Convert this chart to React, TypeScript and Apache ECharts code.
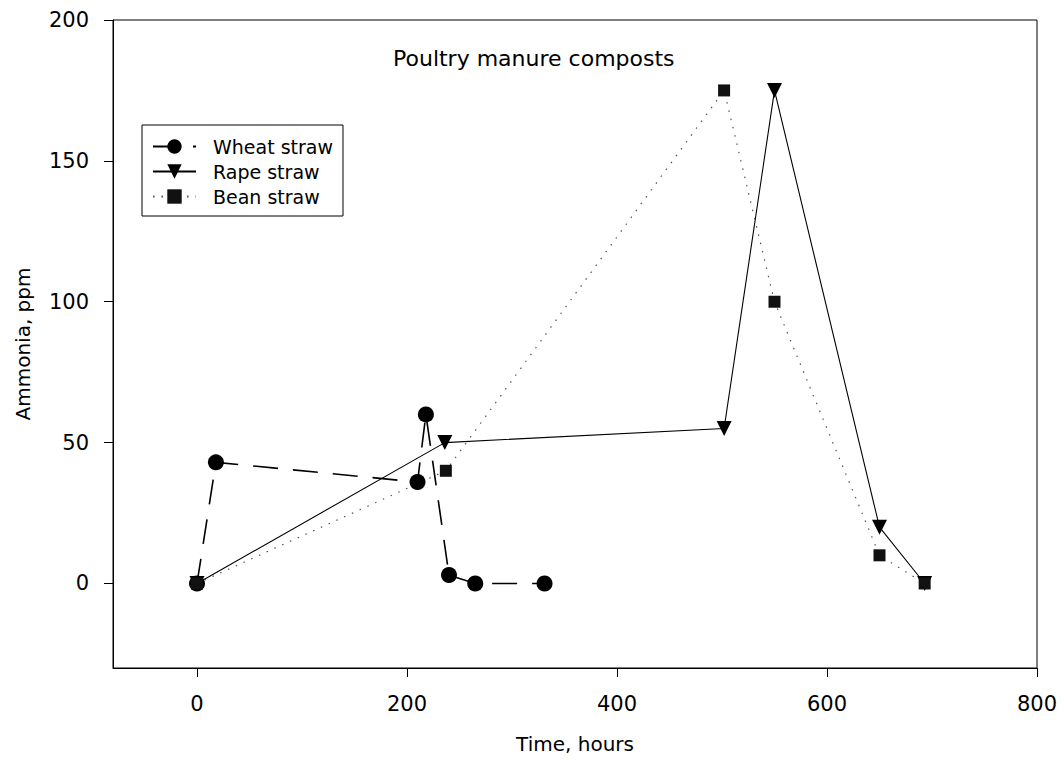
import React, { useEffect, useRef } from "react";
import * as echarts from "echarts";

// Axis ticks
const xTicks = [0, 200, 400, 600, 800];
const yTicks = [0, 50, 100, 150, 200];

// Ammonia release (ppm) over composting time (hours)
const wheatHours = [0, 18, 210, 218, 240, 265, 331];
const wheatNH3 = [0, 43, 36, 60, 3, 0, 0];
const rapeHours = [0, 236, 502, 550, 650, 693];
const rapeNH3 = [0, 50, 55, 175, 20, 0];
const beanHours = [0, 237, 502, 550, 650, 693];
const beanNH3 = [0, 40, 175, 100, 10, 0];

const seriesNames = ["Wheat straw", "Rape straw", "Bean straw"];

const FONT = "DejaVu Sans";

const pairs = (xs: number[], ys: number[]) => xs.map((x, i) => [x, ys[i]]);

export default function App() {
  const ref = useRef<HTMLDivElement>(null);

  useEffect(() => {
    if (!ref.current) return;
    const chart = echarts.init(ref.current, null, { renderer: "svg" });
    chart.setOption({
      animation: false,
      backgroundColor: "#fff",
      textStyle: { fontFamily: FONT, color: "#000" },
      title: {
        text: "Poultry manure composts",
        left: 388,
        top: 42,
        textStyle: { fontFamily: FONT, fontSize: 22, fontWeight: "normal", color: "#000" },
      },
      grid: {
        left: 113,
        right: 27,
        top: 20,
        bottom: 97,
        show: true,
        borderColor: "#000",
        borderWidth: 1,
        backgroundColor: "transparent",
      },
      legend: {
        data: seriesNames,
        orient: "vertical",
        left: 142,
        top: 125,
        padding: [12, 10, 10, 10],
        itemGap: 6,
        itemWidth: 43,
        itemHeight: 18,
        borderColor: "#000",
        borderWidth: 1,
        textStyle: { fontFamily: FONT, fontSize: 19, color: "#000", padding: [0, 0, 0, 12] },
      },
      xAxis: {
        type: "value",
        min: -80,
        max: 800,
        name: "Time, hours",
        nameLocation: "middle",
        nameGap: 66,
        nameTextStyle: { fontFamily: FONT, fontSize: 20, color: "#000" },
        axisLine: { onZero: false, lineStyle: { color: "#000", width: 1 } },
        axisTick: { show: true, length: 9, customValues: xTicks, lineStyle: { color: "#000" } },
        axisLabel: { customValues: xTicks, margin: 25, fontFamily: FONT, fontSize: 21, color: "#000" },
        splitLine: { show: false },
      },
      yAxis: {
        type: "value",
        min: -30,
        max: 200,
        name: "Ammonia, ppm",
        nameLocation: "middle",
        nameGap: 80,
        nameTextStyle: { fontFamily: FONT, fontSize: 20, color: "#000" },
        axisLine: { show: true, onZero: false, lineStyle: { color: "#000", width: 1 } },
        axisTick: { show: true, length: 9, customValues: yTicks, lineStyle: { color: "#000" } },
        axisLabel: { customValues: yTicks, margin: 24, fontFamily: FONT, fontSize: 21, color: "#000" },
        splitLine: { show: false },
      },
      series: [
        {
          name: seriesNames[0],
          type: "line",
          data: pairs(wheatHours, wheatNH3),
          symbol: "circle",
          symbolSize: 16,
          itemStyle: { color: "#000" },
          lineStyle: { color: "#000", width: 1.6, type: [25, 15] },
        },
        {
          name: seriesNames[1],
          type: "line",
          data: pairs(rapeHours, rapeNH3),
          symbol: "triangle",
          symbolRotate: 180,
          symbolSize: 15,
          itemStyle: { color: "#000" },
          lineStyle: { color: "#000", width: 1.1, type: "solid" },
        },
        {
          name: seriesNames[2],
          type: "line",
          data: pairs(beanHours, beanNH3),
          symbol: "rect",
          symbolSize: 12,
          itemStyle: { color: "#111" },
          lineStyle: { color: "#555", width: 1.2, type: [1.5, 7] },
        },
      ],
    });
    return () => chart.dispose();
  }, []);

  return (
    <div
      ref={ref}
      style={{ position: "fixed", left: 0, top: 0, width: 1064, height: 765, background: "#fff" }}
    />
  );
}
